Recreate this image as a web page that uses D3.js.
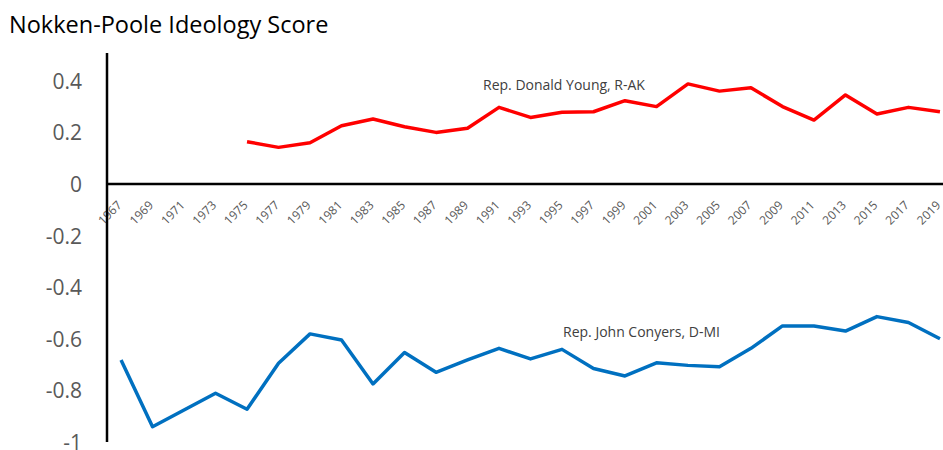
<!DOCTYPE html>
<html>
<head>
<meta charset="utf-8">
<script src="https://cdn.jsdelivr.net/npm/d3@7"></script>
<style>
  html, body { margin: 0; padding: 0; background: #fff; }
  svg { display: block; }
</style>
</head>
<body>
<svg id="chart" width="943" height="450"></svg>
<script>
const years = [1967,1969,1971,1973,1975,1977,1979,1981,1983,1985,1987,1989,1991,1993,1995,1997,1999,2001,2003,2005,2007,2009,2011,2013,2015,2017,2019];
const conyers = [-0.682,-0.941,-0.876,-0.811,-0.873,-0.695,-0.581,-0.605,-0.775,-0.653,-0.730,-0.682,-0.637,-0.678,-0.641,-0.715,-0.744,-0.693,-0.703,-0.708,-0.637,-0.550,-0.550,-0.570,-0.514,-0.537,-0.600];
const young = [null,null,null,null,0.164,0.142,0.160,0.226,0.252,0.222,0.200,0.216,0.297,0.258,0.278,0.280,0.323,0.300,0.388,0.360,0.373,0.300,0.248,0.345,0.271,0.297,0.280];
const yTicks = [0.4,0.2,0,-0.2,-0.4,-0.6,-0.8,-1];
const yTickLabels = ["0.4","0.2","0","-0.2","-0.4","-0.6","-0.8","-1"];
const titleText = "Nokken-Poole Ideology Score";
const youngLabel = "Rep. Donald Young, R-AK";
const conyersLabel = "Rep. John Conyers, D-MI";

const svg = d3.select("#chart");
const font = "'Segoe UI', 'Open Sans', sans-serif";

const x = d3.scalePoint().domain(years).range([105.3, 955.7]).padding(0.5);
const y = d3.scaleLinear().domain([-1, 0.5]).range([442, 55]);

// title
svg.append("text").attr("x", 9).attr("y", 33)
  .attr("font-family", font).attr("font-size", 23.5).attr("fill", "#000")
  .text(titleText);

// y tick labels
const yAxis = d3.axisLeft(y).tickValues(yTicks).tickSize(0).tickPadding(0)
  .tickFormat((d, i) => yTickLabels[i]);
const gy = svg.append("g").attr("transform", "translate(82,0)").call(yAxis);
gy.select(".domain").remove();
gy.selectAll("text").attr("font-family", font).attr("font-size", 21).attr("fill", "#595959").attr("dy", "0.36em");

// x axis labels, rotated
const xAxis = d3.axisBottom(x).tickSize(0).tickPadding(0);
const gx = svg.append("g").attr("transform", `translate(0,${y(0)})`).call(xAxis);
gx.select(".domain").remove();
gx.selectAll(".tick text")
  .attr("font-family", font).attr("font-size", 12).attr("fill", "#595959")
  .attr("text-anchor", "end").attr("dy", null).attr("y", null)
  .attr("transform", "translate(1,22) rotate(-45)");

// axis lines
svg.append("line").attr("x1", 107).attr("x2", 943).attr("y1", y(0)).attr("y2", y(0))
  .attr("stroke", "#000").attr("stroke-width", 2.5);
svg.append("line").attr("x1", 107).attr("x2", 107).attr("y1", 53).attr("y2", 442)
  .attr("stroke", "#000").attr("stroke-width", 2.5);

const line = d3.line().defined(d => d.v !== null).x(d => x(d.year)).y(d => y(d.v));

svg.append("path").datum(years.map((yr, i) => ({year: yr, v: conyers[i]})))
  .attr("d", line).attr("fill", "none").attr("stroke", "#0070C0").attr("stroke-width", 3.5)
  .attr("stroke-linejoin", "round");
svg.append("path").datum(years.map((yr, i) => ({year: yr, v: young[i]})))
  .attr("d", line).attr("fill", "none").attr("stroke", "#FF0000").attr("stroke-width", 3.5)
  .attr("stroke-linejoin", "round");

svg.append("text").attr("x", 483).attr("y", 90)
  .attr("font-family", font).attr("font-size", 14).attr("fill", "#404040").text(youngLabel);
svg.append("text").attr("x", 563).attr("y", 337)
  .attr("font-family", font).attr("font-size", 14).attr("fill", "#404040").text(conyersLabel);
</script>
</body>
</html>
